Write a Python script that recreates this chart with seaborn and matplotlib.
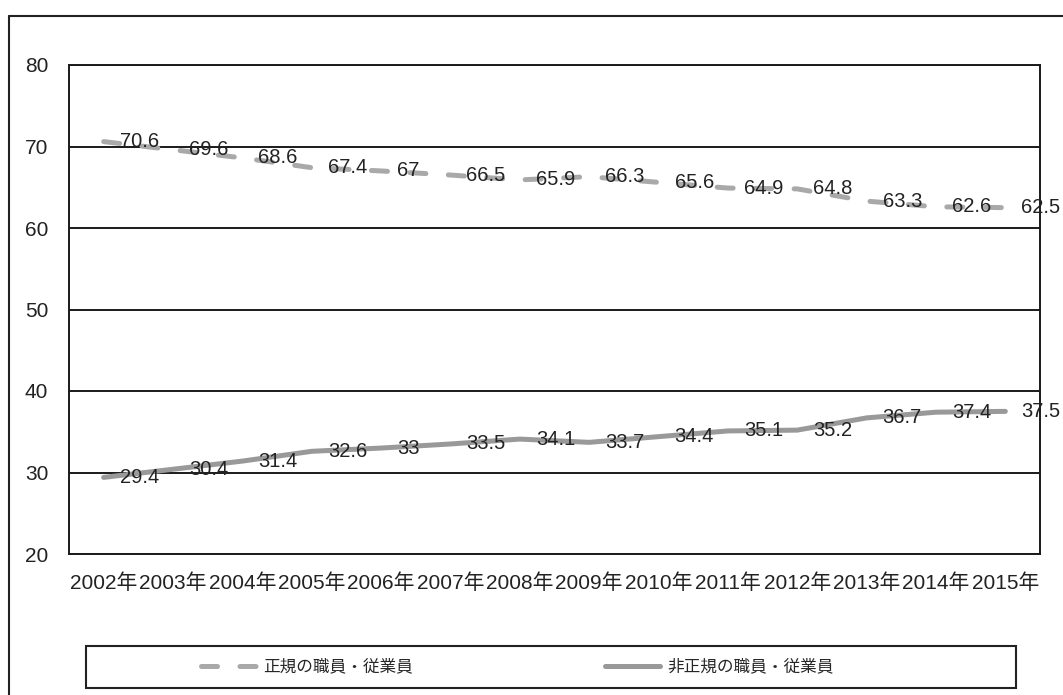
import matplotlib
matplotlib.use("Agg")
import matplotlib.pyplot as plt
from matplotlib.lines import Line2D
from matplotlib.patches import Rectangle
import seaborn as sns
import pandas as pd

years = ["2002年", "2003年", "2004年", "2005年", "2006年", "2007年", "2008年",
         "2009年", "2010年", "2011年", "2012年", "2013年", "2014年", "2015年"]
regular = [70.6, 69.6, 68.6, 67.4, 67.0, 66.5, 65.9, 66.3, 65.6, 64.9, 64.8, 63.3, 62.6, 62.5]
non_regular = [29.4, 30.4, 31.4, 32.6, 33.0, 33.5, 34.1, 33.7, 34.4, 35.1, 35.2, 36.7, 37.4, 37.5]
series_names = ["正規の職員・従業員", "非正規の職員・従業員"]
y_ticks = [20, 30, 40, 50, 60, 70, 80]

sns.set_theme(style="white")
plt.rcParams["font.family"] = ["Liberation Sans", "Noto Sans CJK JP"]

df = pd.DataFrame({
    "year": years * 2,
    "value": regular + non_regular,
    "series": [series_names[0]] * len(years) + [series_names[1]] * len(years),
})

W, H = 1063, 695
fig = plt.figure(figsize=(W / 100, H / 100), dpi=100)
ax = fig.add_axes([69 / W, 1 - 554 / H, (1040 - 69) / W, (554 - 65) / H])

palette = {series_names[0]: "#a9a9a9", series_names[1]: "#999999"}
sns.lineplot(data=df, x="year", y="value", hue="series", style="series",
             palette=palette, dashes={series_names[0]: (3.2, 4.5), series_names[1]: ""},
             sort=False, legend=False, ax=ax, linewidth=3.6)
for ln in ax.get_lines():
    ln.set_dash_capstyle("round")
    ln.set_solid_capstyle("round")
    ln.set_solid_joinstyle("round")

# value labels to the right of each point
for vals in (regular, non_regular):
    for i, v in enumerate(vals):
        ax.annotate(f"{v:g}", (i, v), xytext=(16, 0), textcoords="offset pixels",
                    ha="left", va="center", fontsize=14.5, color="#222222",
                    annotation_clip=False, zorder=5)

ax.set_xlim(-0.5, len(years) - 0.5)
ax.set_ylim(20, 80)
ax.set_yticks(y_ticks)
ax.set_xlabel("")
ax.set_ylabel("")
ax.yaxis.grid(True, color="#1a1a1a", linewidth=1.4)
ax.xaxis.grid(False)
ax.set_axisbelow(True)
for sp in ax.spines.values():
    sp.set_visible(True)
    sp.set_color("#1a1a1a")
    sp.set_linewidth(1.4)
ax.tick_params(axis="both", length=0, labelsize=15, colors="#222222")
ax.tick_params(axis="y", pad=15)
ax.tick_params(axis="x", pad=14)

# outer chart frame
fig.add_artist(Line2D([9 / W, 1.0], [1 - 16 / H, 1 - 16 / H], transform=fig.transFigure,
                      color="#222222", linewidth=1.5))
fig.add_artist(Line2D([9 / W, 9 / W], [1 - 16 / H, 0.0], transform=fig.transFigure,
                      color="#222222", linewidth=1.5))

# legend box
fig.add_artist(Rectangle((86 / W, 1 - 688 / H), (1016 - 86) / W, (688 - 646) / H,
                         transform=fig.transFigure, fill=False, edgecolor="#222222",
                         linewidth=1.5))
handles = [
    Line2D([], [], color=palette[series_names[0]], linewidth=3.6, dashes=(3.2, 4.5),
           dash_capstyle="round"),
    Line2D([], [], color=palette[series_names[1]], linewidth=3.6),
]
fig.legend(handles, series_names, loc="center", bbox_to_anchor=(517 / W, 1 - 667 / H),
           ncol=2, frameon=False, handlelength=3.3, handletextpad=0.45,
           columnspacing=11.5, prop={"family": ["Noto Sans CJK JP"], "size": 12})

fig.savefig("out.png", dpi=100, facecolor="white")
